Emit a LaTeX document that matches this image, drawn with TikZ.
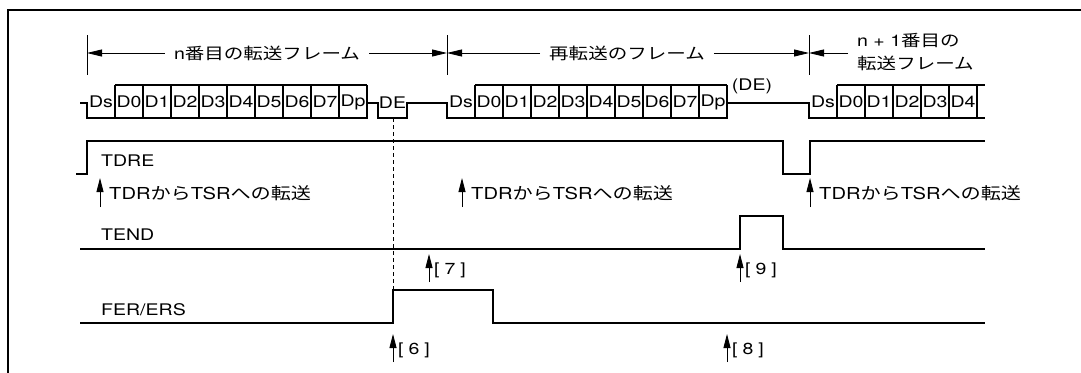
\documentclass[tikz,border=0pt]{standalone}
\usepackage{fontspec}
\setmainfont{TeX Gyre Heros}[FakeStretch=1.22]
\newfontfamily\jp{Noto Sans CJK JP}[FakeStretch=1.22]
\newcommand\J[1]{{\jp #1}}
\usetikzlibrary{arrows.meta}
\begin{document}
\begin{tikzpicture}[x=1pt, y=-1pt,
  sig/.style={line width=1.3pt},
  txt/.style={font=\fontsize{16}{23}\selectfont, inner sep=0pt},
  note/.style={font=\fontsize{16.5}{23}\selectfont, inner sep=0pt, anchor=west},
  dim/.style={line width=0.8pt, -{Triangle[length=15pt,width=7pt]}},
  evt/.style={line width=0.9pt, -{Triangle[length=14pt,width=7pt]}}]
  \useasboundingbox (0,0) rectangle (1081,372);
  \draw[line width=2.6pt] (8,373) -- (8,10) -- (1082,10);
  % frame lengths
  \foreach \x [count=\i] in {87,447,809} {
    \coordinate (tk\i) at (\x,53);
    \draw[line width=0.8pt] (\x,35) -- (\x,75);
  }
  \node[txt, inner xsep=9pt] (f1) at (267,53) {n\J{番目の転送フレーム}};
  \node[txt, inner xsep=9pt] (f2) at (627,53) {\J{再転送のフレーム}};
  \node[txt, inner xsep=9pt, align=left, anchor=west] (f3) at (848,52) {n + 1\J{番目の}\\\J{転送フレーム}};
  \draw[dim] (f1) -- (tk1); \draw[dim] (f1) -- (tk2);
  \draw[dim] (f2) -- (tk2); \draw[dim] (f2) -- (tk3);
  \draw[dim] (f3.west |- tk3) -- (tk3);
  % data
  \foreach \l [count=\i from 0] in {Ds,D0,D1,D2,D3,D4,D5,D6,D7,Dp}
    \node[txt] (a\i) at (101+28*\i,102) {\l};
  \foreach \l [count=\i from 0] in {Ds,D0,D1,D2,D3,D4,D5,D6,D7,Dp}
    \node[txt] (b\i) at (461+28*\i,102) {\l};
  \foreach \l [count=\i from 0] in {Ds,D0,D1,D2,D3,D4}
    \node[txt] (c\i) at (823+28*\i,102) {\l};
  \foreach \i in {1,...,10} {
    \draw[sig] (87+28*\i,85) -- (87+28*\i,118);
    \draw[sig] (447+28*\i,85) -- (447+28*\i,118);
  }
  \foreach \i in {1,...,6} \draw[sig] (809+28*\i,85) -- (809+28*\i,118);
  \draw[sig] (115,85) -- (367,85);
  \draw[sig] (475,85) -- (727,85);
  \draw[sig] (837,85) -- (985,85);
  \draw[sig] (80,103) -- (87,103) -- (87,118) -- (367,118) -- (367,103) -- (378,103) -- (378,118)
    -- (407,118) -- (407,103) -- (447,103) -- (447,118) -- (727,118) -- (727,103) -- (809,103)
    -- (809,118) -- (985,118);
  \node[txt] (de) at (392.5,103) {DE};
  \node[txt] (dep) at (752,86) {(DE)};
  % flags
  \draw[sig] (76,174) -- (87,174) -- (87,141) -- (783,141) -- (783,174) -- (810,174) -- (810,141) -- (985,141);
  \draw[sig] (80,249) -- (740,249) -- (740,216) -- (783,216) -- (783,249) -- (985,249);
  \draw[sig] (80,323) -- (393,323) -- (393,290) -- (493,290) -- (493,323) -- (985,323);
  \node[txt, anchor=west] (tdre) at (101,161) {TDRE};
  \node[txt, anchor=west] (tend) at (101,235) {TEND};
  \node[txt, anchor=west] (fer) at (101,310) {FER/ERS};
  \coordinate (fr) at (393,290);
  \draw[dashed, dash pattern=on 4pt off 3pt, line width=0.6pt] (393,118) -- (fr);
  \foreach \x/\n in {100/t1, 462/t2, 810/t3} {
    \coordinate (\n) at (\x,178);
    \draw[evt] ([yshift=-29pt]\n) -- (\n);
    \node[note] (\n txt) at (\x+9,193) {TDR\J{から}TSR\J{への転送}};
  }
  \foreach \x/\y/\k in {393/334/6, 429/254/7, 727/334/8, 740/254/9} {
    \coordinate (e\k) at (\x,\y);
    \draw[evt] ([yshift=-28pt]e\k) -- (e\k);
    \node[txt, anchor=west] (l\k) at (\x+5,\y+16) {[\hspace{5pt}\k\hspace{5pt}]};
  }
\end{tikzpicture}
\end{document}
